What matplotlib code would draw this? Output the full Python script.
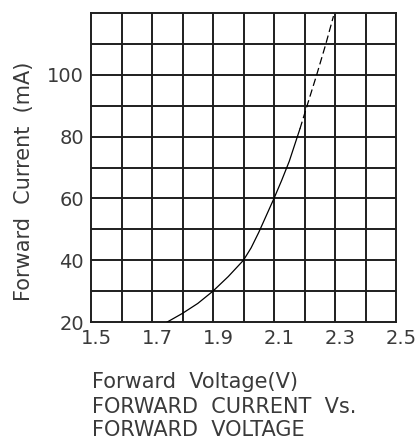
import numpy as np
import matplotlib
matplotlib.use('Agg')
import matplotlib.pyplot as plt
from matplotlib.transforms import ScaledTranslation

# curve
v_solid = [1.75, 1.80, 1.85, 1.90, 1.95, 2.00, 2.025, 2.05, 2.075, 2.10, 2.125, 2.15, 2.175, 2.185]
i_solid = [20, 22.8, 26, 30, 34.7, 40, 44, 49, 54.5, 60, 65.8, 72, 79.5, 82.5]
v_dash = [2.185, 2.21, 2.24, 2.27, 2.295]
i_dash = [82.5, 90.5, 100, 110, 119]

xticks = [1.5, 1.7, 1.9, 2.1, 2.3, 2.5]
yticks = [20, 40, 60, 80, 100]

txt = '#3a3a3a'
grid = '#1e1e1e'

fig = plt.figure(figsize=(4.2, 4.41), dpi=100)
ax = fig.add_axes([91/420, 1-322/441, 305/420, 309/441])

ax.set_xlim(1.5, 2.5)
ax.set_ylim(20, 120)

# grid every 0.1 V and 10 mA
for gx in np.arange(1.6, 2.45, 0.1):
    ax.axvline(gx, color=grid, lw=1.4, zorder=1)
for gy in np.arange(30, 115, 10):
    ax.axhline(gy, color=grid, lw=1.4, zorder=1)

ax.plot(v_solid, i_solid, color='black', lw=0.9, zorder=3)
ax.plot(v_dash, i_dash, color='black', lw=0.9, ls=(0, (6, 3)), zorder=3)

ax.set_xticks(xticks)
ax.set_xticklabels([str(t) for t in xticks])
ax.set_yticks(yticks)
ax.tick_params(length=0, labelsize=14, labelcolor=txt, pad=5)
# labels in the original sit a little right of the grid lines
for lab in ax.get_xticklabels():
    lab.set_transform(lab.get_transform() + ScaledTranslation(0.05, 0, fig.dpi_scale_trans))
for s in ax.spines.values():
    s.set_linewidth(1.4)
    s.set_color(grid)

fig.text(24/420, 1-181/441, 'Forward  Current  (mA)', rotation=90,
         ha='center', va='center', fontsize=15, color=txt)
fig.text(92/420, 1-382/441, 'Forward  Voltage(V)', ha='left', va='center',
         fontsize=15, color=txt)
fig.text(92/420, 1-407/441, 'FORWARD  CURRENT  Vs.', ha='left', va='center',
         fontsize=15, color=txt)
fig.text(92/420, 1-430/441, 'FORWARD  VOLTAGE', ha='left', va='center',
         fontsize=15, color=txt)

fig.savefig('out.png', dpi=100)
